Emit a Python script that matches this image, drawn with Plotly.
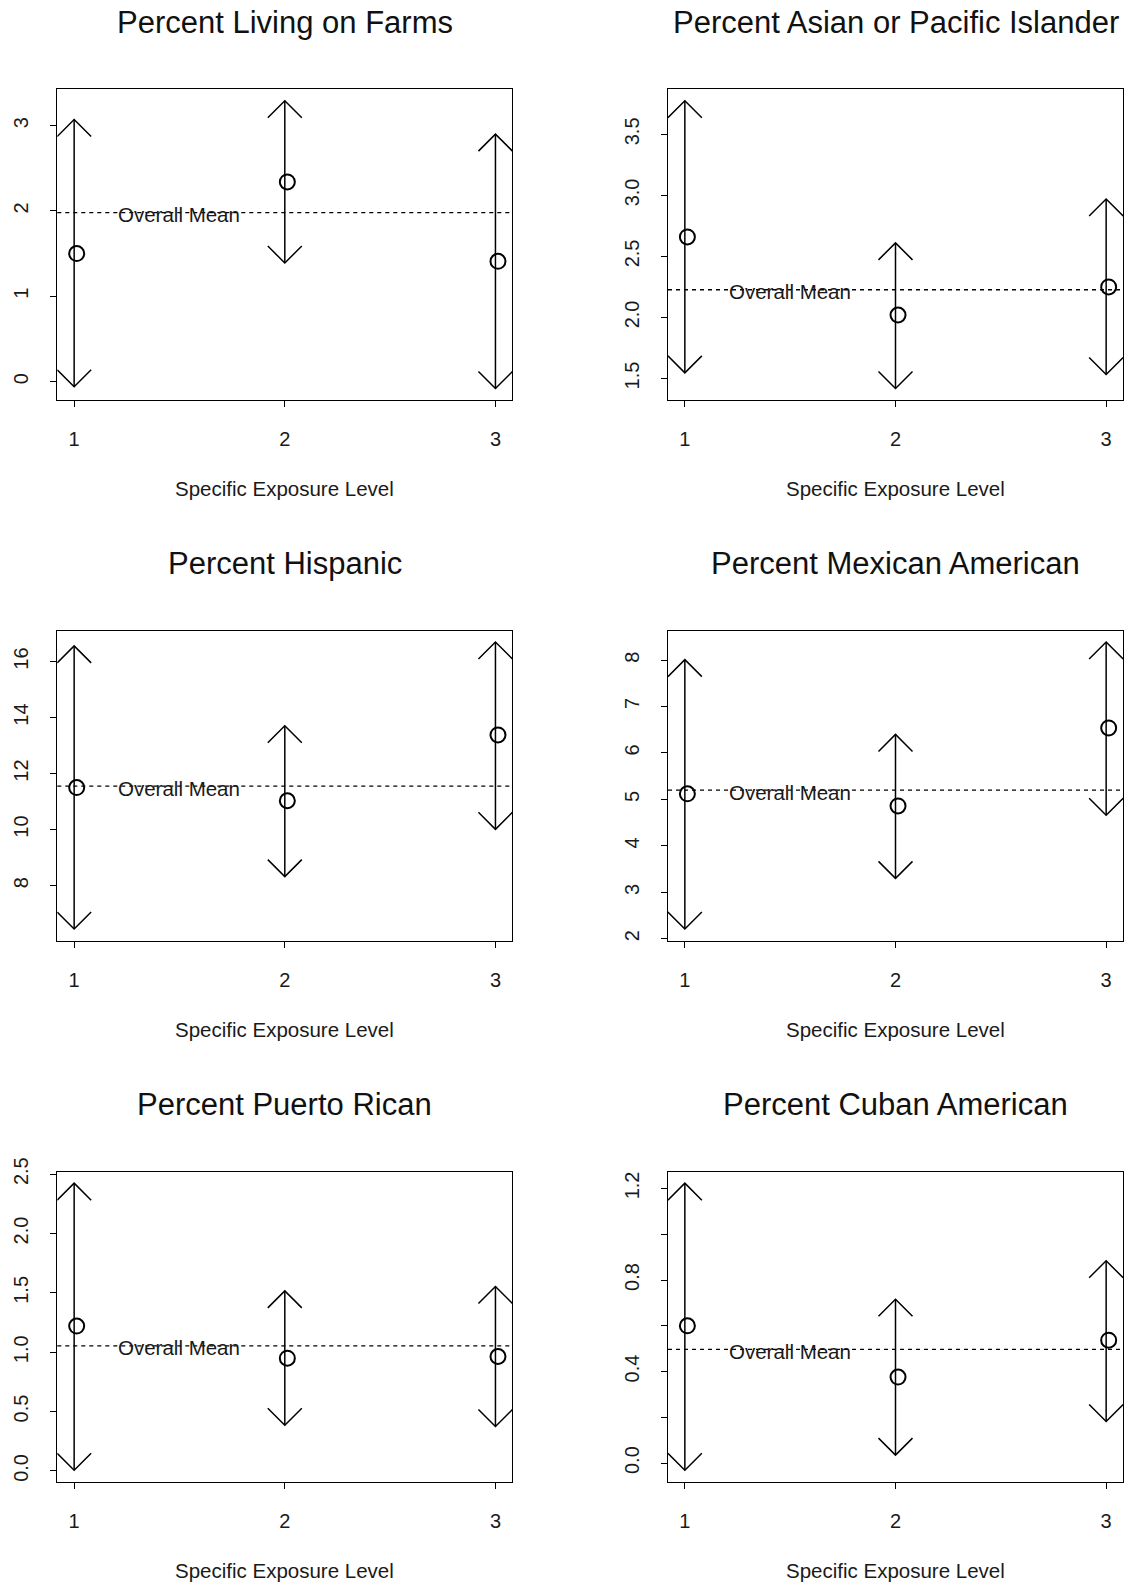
import plotly.graph_objects as go

W, H = 1130, 1585

# ---------------- data ----------------
levels = [1, 2, 3]
x_title = "Specific Exposure Level"
mean_label = "Overall Mean"

titles = [
    "Percent Living on Farms",
    "Percent Asian or Pacific Islander",
    "Percent Hispanic",
    "Percent Mexican American",
    "Percent Puerto Rican",
    "Percent Cuban American",
]

farms_mean = [1.50, 2.34, 1.41]
farms_lo = [-0.06, 1.39, -0.08]
farms_hi = [3.07, 3.29, 2.90]
farms_overall = 1.98

asian_mean = [2.66, 2.02, 2.25]
asian_lo = [1.546, 1.418, 1.533]
asian_hi = [3.775, 2.611, 2.970]
asian_overall = 2.227

hisp_mean = [11.50, 11.03, 13.38]
hisp_lo = [6.45, 8.32, 10.01]
hisp_hi = [16.56, 13.71, 16.70]
hisp_overall = 11.55

mex_mean = [5.12, 4.86, 6.54]
mex_lo = [2.21, 3.30, 4.66]
mex_hi = [8.01, 6.40, 8.39]
mex_overall = 5.20

pr_mean = [1.22, 0.95, 0.964]
pr_lo = [0.006, 0.385, 0.374]
pr_hi = [2.424, 1.517, 1.554]
pr_overall = 1.054

cuban_mean = [0.600, 0.376, 0.537]
cuban_lo = [-0.031, 0.035, 0.182]
cuban_hi = [1.223, 0.716, 0.884]
cuban_overall = 0.497

farms_ticks = [0, 1, 2, 3]
farms_ticktext = ["0", "1", "2", "3"]
asian_ticks = [1.5, 2.0, 2.5, 3.0, 3.5]
asian_ticktext = ["1.5", "2.0", "2.5", "3.0", "3.5"]
hisp_ticks = [8, 10, 12, 14, 16]
hisp_ticktext = ["8", "10", "12", "14", "16"]
mex_ticks = [2, 3, 4, 5, 6, 7, 8]
mex_ticktext = ["2", "3", "4", "5", "6", "7", "8"]
pr_ticks = [0.0, 0.5, 1.0, 1.5, 2.0, 2.5]
pr_ticktext = ["0.0", "0.5", "1.0", "1.5", "2.0", "2.5"]
cuban_ticks = [0.0, 0.2, 0.4, 0.6, 0.8, 1.0, 1.2]
cuban_ticktext = ["0.0", "", "0.4", "", "0.8", "", "1.2"]

panels = [
    (farms_mean, farms_lo, farms_hi, farms_overall, farms_ticks, farms_ticktext),
    (asian_mean, asian_lo, asian_hi, asian_overall, asian_ticks, asian_ticktext),
    (hisp_mean, hisp_lo, hisp_hi, hisp_overall, hisp_ticks, hisp_ticktext),
    (mex_mean, mex_lo, mex_hi, mex_overall, mex_ticks, mex_ticktext),
    (pr_mean, pr_lo, pr_hi, pr_overall, pr_ticks, pr_ticktext),
    (cuban_mean, cuban_lo, cuban_hi, cuban_overall, cuban_ticks, cuban_ticktext),
]

# ---------------- layout geometry (pixels) ----------------
col_x = [(57.3, 512.3), (668.0, 1123.0)]
row_y = [(89.3, 400.0), (630.5, 940.5), (1171.7, 1481.7)]
title_y = [22.5, 563.5, 1104.5]
xlab_y = [488, 1029, 1570]

FONT = "Liberation Sans, Arial, Helvetica, sans-serif"
TXT = "#1a1a1a"
head_px = 17.0
pt_offset = 0.012

fig = go.Figure()
layout_axes = {}
shapes = []
annotations = []

def pad_range(lo, hi, f=0.04):
    s = hi - lo
    return [lo - f * s, hi + f * s]

for i, (mean, lo, hi, overall, yt, ytt) in enumerate(panels):
    r, c = divmod(i, 2)
    n = i + 1
    xs = "" if n == 1 else str(n)
    x0p, x1p = col_x[c]
    y0p, y1p = row_y[r]
    xr = pad_range(min(levels), max(levels))
    yr = pad_range(min(lo), max(hi))
    ppx = (x1p - x0p) / (xr[1] - xr[0])
    ppy = (y1p - y0p) / (yr[1] - yr[0])
    dx = head_px / ppx
    dy = head_px / ppy

    ax_x, ax_y = [], []
    for lv, l, h in zip(levels, lo, hi):
        ax_x += [lv, lv, None, lv - dx, lv, lv + dx, None, lv - dx, lv, lv + dx, None]
        ax_y += [l, h, None, h - dy, h, h - dy, None, l + dy, l, l + dy, None]
    fig.add_trace(go.Scatter(x=ax_x, y=ax_y, mode="lines",
                             line=dict(color="black", width=1.5),
                             xaxis="x" + xs, yaxis="y" + xs, hoverinfo="skip",
                             showlegend=False))
    fig.add_trace(go.Scatter(x=[lv + pt_offset for lv in levels], y=mean, mode="markers",
                             marker=dict(symbol="circle-open", size=15, color="black",
                                         line=dict(width=2, color="black")),
                             xaxis="x" + xs, yaxis="y" + xs, showlegend=False))

    common = dict(showline=True, mirror=True, linecolor="black", linewidth=1.3,
                  ticks="outside", ticklen=6, tickcolor="black", tickwidth=1.2,
                  showgrid=False, zeroline=False, automargin=False,
                  tickfont=dict(family=FONT, size=20, color=TXT))
    layout_axes["xaxis" + xs] = dict(
        common, domain=[x0p / W, x1p / W], range=xr, anchor="y" + xs,
        tickmode="array", tickvals=levels, ticktext=[str(v) for v in levels],
        ticklabelstandoff=15)
    layout_axes["yaxis" + xs] = dict(
        common, domain=[1 - y1p / H, 1 - y0p / H], range=yr, anchor="x" + xs,
        tickmode="array", tickvals=yt, ticktext=ytt, tickangle=-90,
        ticklabelstandoff=14)

    shapes.append(dict(type="line", xref="x" + xs + " domain", x0=0, x1=1,
                       yref="y" + xs, y0=overall, y1=overall,
                       line=dict(color="black", width=1.3, dash="4px,4px")))
    annotations.append(dict(text=mean_label, xref="x" + xs, yref="y" + xs,
                            x=1.5, y=overall, showarrow=False, yshift=-2,
                            font=dict(family=FONT, size=20.5, color=TXT)))
    annotations.append(dict(text=titles[i], xref="paper", yref="paper",
                            x=(x0p + x1p) / 2 / W, y=1 - title_y[r] / H,
                            xanchor="center", yanchor="middle", showarrow=False,
                            font=dict(family=FONT, size=31, color="#111")))
    annotations.append(dict(text=x_title, xref="paper", yref="paper",
                            x=(x0p + x1p) / 2 / W, y=1 - xlab_y[r] / H,
                            xanchor="center", yanchor="middle", showarrow=False,
                            font=dict(family=FONT, size=20.5, color=TXT)))

fig.update_layout(
    width=W, height=H, margin=dict(l=0, r=0, t=0, b=0, autoexpand=False),
    paper_bgcolor="white", plot_bgcolor="white",
    showlegend=False, hovermode=False,
    shapes=shapes, annotations=annotations,
    **layout_axes,
)

fig.write_html("out.html")
